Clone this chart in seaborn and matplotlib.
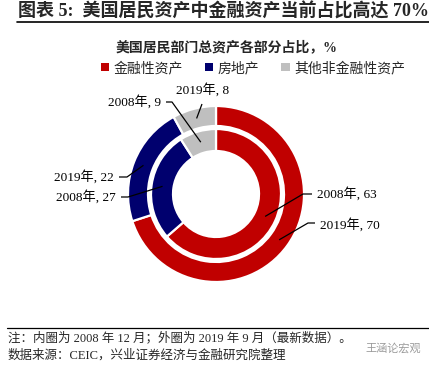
import matplotlib
matplotlib.use('Agg')
import matplotlib.pyplot as plt
import seaborn as sns
import numpy as np
from matplotlib.patches import Patch

# ---- data ----
categories = ['金融性资产', '房地产', '其他非金融性资产']
values_2019 = [70, 22, 8]   # outer ring (2019-09)
values_2008 = [63, 27, 9]   # inner ring (2008-12)
year_outer = '2019年'
year_inner = '2008年'

sns.set_theme(style='white')
plt.rcParams['font.family'] = ['Liberation Serif', 'Noto Sans CJK SC', 'DejaVu Sans']

W, H = 429, 367
fig = plt.figure(figsize=(W / 100, H / 100), dpi=100)

cx, cy, R = 216, 194, 88
ax = fig.add_axes([(cx - R) / W, 1 - (cy + R) / H, 2 * R / W, 2 * R / H])
palette = sns.color_palette(['#C00000', '#00006E', '#BFBFBF'])
edge = dict(edgecolor='white', linewidth=1.6)

outer, _ = ax.pie(values_2019, radius=1.0, colors=palette, startangle=90,
                  counterclock=False, wedgeprops=dict(width=20 / 88, **edge))
inner, _ = ax.pie(values_2008, radius=65 / 88, colors=palette, startangle=90,
                  counterclock=False, wedgeprops=dict(width=22 / 88, **edge))
ax.set_xlim(-1, 1)
ax.set_ylim(-1, 1)
ax.set_aspect('equal')
ax.axis('off')


def px2d(x, y):
    return ((x - cx) / R, (cy - y) / R)


def anchor(w):
    th = np.deg2rad((w.theta1 + w.theta2) / 2)
    r = w.r - w.width / 2
    return r * np.cos(th), r * np.sin(th)


# (wedge, label, text pos px, ha, line start px, elbow px or None)
labels = [
    (outer[2], f'{year_outer}, {values_2019[2]}', (203, 90), 'center', (202, 104), None),
    (inner[2], f'{year_inner}, {values_2008[2]}', (161, 102), 'right', (166, 102), (172, 102)),
    (outer[1], f'{year_outer}, {values_2019[1]}', (114, 177), 'right', (119, 177), (127, 177)),
    (inner[1], f'{year_inner}, {values_2008[1]}', (116, 197), 'right', (121, 197), (128, 197)),
    (inner[0], f'{year_inner}, {values_2008[0]}', (317, 194), 'left', (312, 194), (303, 194)),
    (outer[0], f'{year_outer}, {values_2019[0]}', (320, 225), 'left', (315, 223), (308, 223)),
]
for w, txt, tp, ha, ls, el in labels:
    tx, ty = px2d(*tp)
    ax.text(tx, ty, txt, ha=ha, va='center', fontsize=9.5, color='black', clip_on=False)
    ax_, ay_ = anchor(w)
    pts = [px2d(*ls)]
    if el is not None:
        pts.append(px2d(*el))
    pts.append((ax_, ay_))
    xs, ys = zip(*pts)
    ax.plot(xs, ys, color='black', lw=0.9, clip_on=False, solid_capstyle='butt')

# ---- header ----
fig.text(18 / W, 1 - 12 / H, '图表 5:  美国居民资产中金融资产当前占比高达 70%',
         ha='left', va='center', fontsize=13, fontweight='bold')
fig.add_artist(plt.Line2D([17 / W, 1.0], [1 - 22 / H, 1 - 22 / H], color='black', lw=1.2))

fig.text(226 / W, 1 - 47 / H, '美国居民部门总资产各部分占比，%', ha='center', va='center',
         fontsize=10, fontweight='bold')

handles = [Patch(facecolor=c, edgecolor='none', label=l) for c, l in zip(palette, categories)]
fig.legend(handles=handles, loc='center', bbox_to_anchor=(253 / W, 1 - 68 / H), ncol=3,
           frameon=False, handlelength=0.6, handleheight=0.6, handletextpad=0.3,
           columnspacing=1.6, fontsize=10, borderaxespad=0, borderpad=0)

# ---- footer ----
fig.add_artist(plt.Line2D([7 / W, 1.0], [1 - 328 / H, 1 - 328 / H], color='black', lw=0.9))
fig.text(8 / W, 1 - 338 / H, '注：内圈为 2008 年 12 月；外圈为 2019 年 9 月（最新数据）。',
         ha='left', va='center', fontsize=9)
fig.text(8 / W, 1 - 355 / H, '数据来源：CEIC，兴业证券经济与金融研究院整理',
         ha='left', va='center', fontsize=9)
fig.text(365 / W, 1 - 348 / H, '王涵论宏观', ha='left', va='center', fontsize=8, color='#9a9a9a')

fig.savefig('out.png', dpi=100, facecolor='white')
